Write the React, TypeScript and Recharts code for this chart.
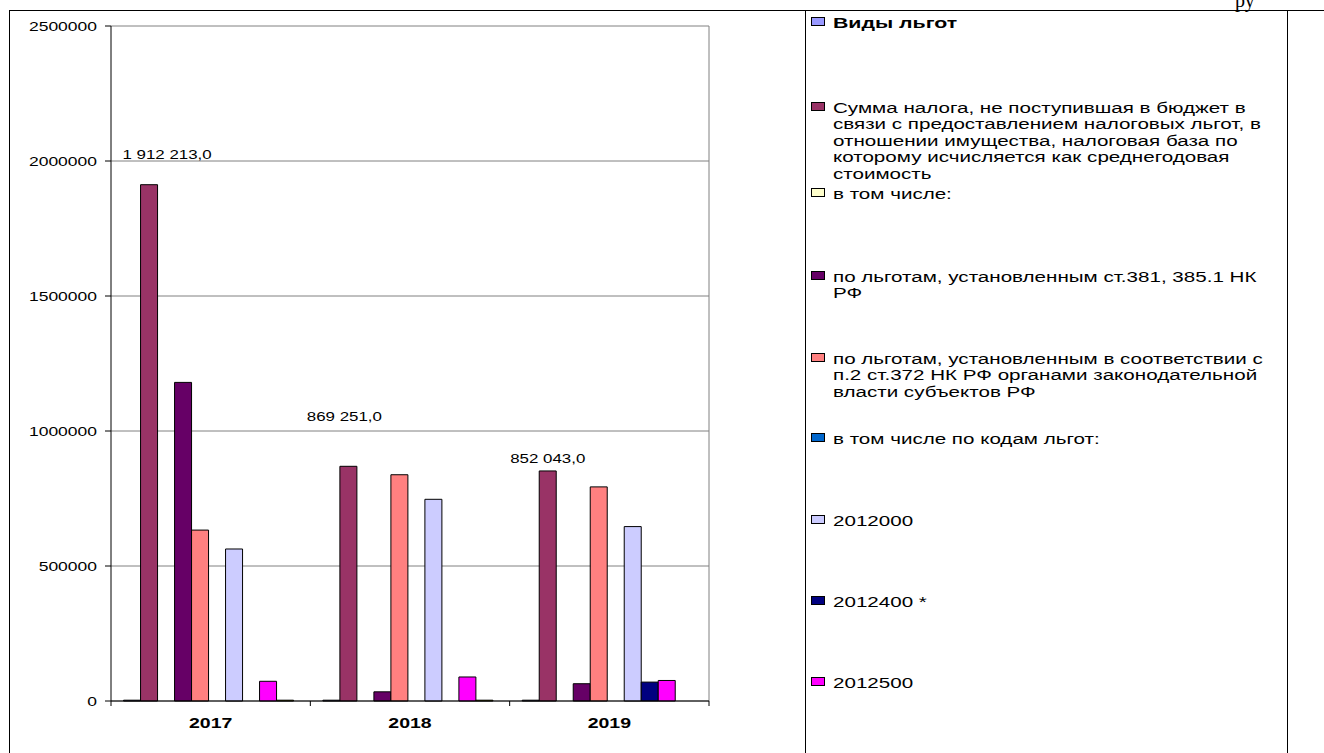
import { BarChart, Bar, XAxis, YAxis, CartesianGrid, LabelList } from 'recharts'

// categories
const years = ['2017', '2018', '2019']

// legend / series names (line breaks as in the original legend)
const seriesNames = [
  'Виды льгот',
  'Сумма налога, не поступившая в бюджет в\nсвязи с предоставлением налоговых льгот, в\nотношении имущества, налоговая база по\nкоторому исчисляется как среднегодовая\nстоимость',
  'в том числе:',
  'по льготам, установленным ст.381, 385.1 НК\nРФ',
  'по льготам, установленным в соответствии с\nп.2 ст.372 НК РФ органами законодательной\nвласти субъектов РФ',
  'в том числе по кодам льгот:',
  '2012000',
  '2012400 *',
  '2012500',
  '',
]

// series values, one entry per year
const vidyLgot = [3000, 3000, 3000]
const summaNaloga = [1912213, 869251, 852043]
const vTomChisle = [0, 0, 0]
const poSt381 = [1180000, 34000, 64000]
const poSt372 = [633000, 838000, 793000]
const poKodam = [0, 0, 0]
const kod2012000 = [563000, 747000, 646000]
const kod2012400 = [0, 0, 70000]
const kod2012500 = [73000, 89000, 76000]
const prochee = [3000, 3000, 0]

const yTicks = [0, 500000, 1000000, 1500000, 2000000, 2500000]

const seriesValues = [
  vidyLgot, summaNaloga, vTomChisle, poSt381, poSt372,
  poKodam, kod2012000, kod2012400, kod2012500, prochee,
]

const colors = [
  '#9999FF', '#993366', '#FFFFCC', '#660066', '#FF8080',
  '#0066CC', '#CCCCFF', '#000080', '#FF00FF', '#FFFF00',
]

const data = years.map((year, i) => {
  const row: Record<string, string | number> = { year }
  seriesValues.forEach((vals, s) => { row['s' + s] = vals[i] })
  return row
})

// layout
const FONT = '"Liberation Sans", Arial, sans-serif'
const SX = 1.4 // the source picture is stretched horizontally
const CHART_W = 800
const CHART_H = 753
const MARGIN = { top: 26, right: 91, bottom: 12, left: 0 }
const Y_W = 111
const BAND_HALF = (CHART_W - MARGIN.right - MARGIN.left - Y_W) / years.length / 2

// manual label placement (as in the source, dx / dy from the bar top centre)
const labelOffsets = [[18, -30], [-4, -50], [0, -13]]
// first-line centre of each legend entry
const legendY = [23, 108, 194, 277, 359, 439, 521, 602, 683]

const fmt = (v: number) =>
  Math.round(v).toString().replace(/\B(?=(\d{3})+(?!\d))/g, ' ') + ',0'

const YTick = (props: any) => {
  const { x, y, payload } = props
  return (
    <text
      transform={`translate(${x},${y}) scale(${SX},1)`}
      textAnchor="end"
      dominantBaseline="central"
      fontSize={12.5}
      fontFamily={FONT}
      fill="#000"
    >
      {payload.value}
    </text>
  )
}

const XTick = (props: any) => {
  const { x, y, payload, index } = props
  return (
    <g>
      <line x1={x - BAND_HALF} x2={x - BAND_HALF} y1={y} y2={y + 5} stroke="#000" />
      {index === years.length - 1 && (
        <line x1={x + BAND_HALF} x2={x + BAND_HALF} y1={y} y2={y + 5} stroke="#000" />
      )}
      <text
        transform={`translate(${x},${y + 27}) scale(1.3,1)`}
        textAnchor="middle"
        fontSize={15}
        fontWeight="bold"
        fontFamily={FONT}
        fill="#000"
      >
        {payload.value}
      </text>
    </g>
  )
}

const ValueLabel = (props: any) => {
  const vb = props.viewBox || {}
  const x = props.x ?? vb.x
  const y = props.y ?? vb.y
  const width = props.width ?? vb.width
  const [dx, dy] = labelOffsets[props.index] || [0, -10]
  return (
    <text
      transform={`translate(${x + width / 2 + dx},${y + dy}) scale(1.3,1)`}
      textAnchor="middle"
      dominantBaseline="central"
      fontSize={13}
      fontFamily={FONT}
      fill="#000"
    >
      {fmt(Number(props.value))}
    </text>
  )
}

const line = (left: number, top: number, width: number, height: number) => (
  <div style={{ position: 'absolute', left, top, width, height, background: '#000' }} />
)

export default function App() {
  return (
    <div
      style={{
        position: 'absolute', left: 0, top: 0, width: 1324, height: 753,
        overflow: 'hidden', background: '#fff', fontFamily: FONT,
      }}
    >
      {line(9, 10, 1315, 1)}
      {line(9, 10, 1, 743)}
      {line(805, 10, 1, 743)}
      {line(1287, 10, 1, 743)}

      <div
        style={{
          position: 'absolute', left: 1235, top: -10, fontSize: 20, lineHeight: '20px',
          fontFamily: '"Liberation Serif", "Times New Roman", serif',
        }}
      >
        ру
      </div>

      <div style={{ position: 'absolute', left: 0, top: 0 }}>
        <BarChart
          width={CHART_W}
          height={CHART_H}
          data={data}
          margin={MARGIN}
          barGap={0}
          barCategoryGap="6.3%"
        >
          <CartesianGrid
            stroke="#808080"
            vertical={true}
            verticalCoordinatesGenerator={({ offset }: any) => [offset.left + offset.width]}
          />
          <XAxis
            dataKey="year"
            height={40}
            axisLine={{ stroke: '#000' }}
            tickLine={false}
            tickSize={0}
            tickMargin={0}
            tick={<XTick />}
            interval={0}
          />
          <YAxis
            width={Y_W}
            domain={[0, 2500000]}
            ticks={yTicks}
            interval={0}
            axisLine={{ stroke: '#000' }}
            tickLine={{ stroke: '#000' }}
            tickSize={6}
            tickMargin={8}
            tick={<YTick />}
          />
          {seriesNames.map((name, s) => (
            <Bar
              key={s}
              dataKey={'s' + s}
              name={name}
              fill={colors[s]}
              stroke="#000"
              strokeWidth={1}
              isAnimationActive={false}
            >
              {s === 1 && <LabelList dataKey="s1" content={<ValueLabel />} />}
            </Bar>
          ))}
        </BarChart>
      </div>

      {seriesNames.slice(0, 9).map((name, i) => (
        <div key={i}>
          <div
            style={{
              position: 'absolute', left: 811, top: legendY[i] - 6.5, width: 14, height: 9.5,
              background: colors[i], border: '1px solid #000', boxSizing: 'border-box',
            }}
          />
          <div
            style={{
              position: 'absolute', left: 833, top: legendY[i] - 8.5,
              fontSize: 14, lineHeight: '16.5px', whiteSpace: 'pre', color: '#000',
              fontWeight: i === 0 ? 'bold' : 'normal',
              transform: i === 0 ? 'scaleX(1.52)' : 'scaleX(1.47)', transformOrigin: 'left top',
            }}
          >
            {name}
          </div>
        </div>
      ))}
    </div>
  )
}
